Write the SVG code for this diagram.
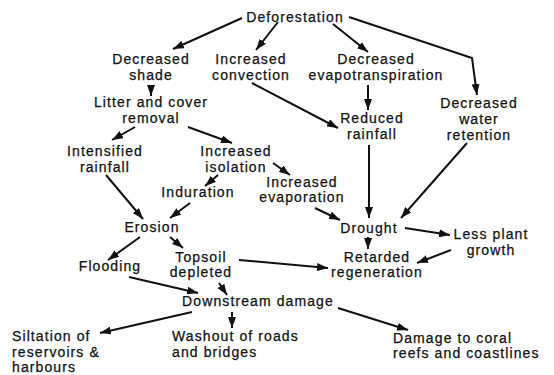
<svg xmlns="http://www.w3.org/2000/svg" width="554" height="375" viewBox="0 0 554 375">
<defs>
<marker id="ah" markerUnits="userSpaceOnUse" markerWidth="11" markerHeight="8" refX="11" refY="4" orient="auto">
<path d="M0,0 L11,4 L0,8 z" fill="#111"/>
</marker>
<style>
text{font-family:"Liberation Sans",Arial,Helvetica,sans-serif;font-size:14px;letter-spacing:1.1px;fill:#111;stroke:#111;stroke-width:0.25}
.c{text-anchor:middle}
.l{text-anchor:start}
.e{fill:none;stroke:#111;stroke-width:2;marker-end:url(#ah)}
</style>
</defs>
<rect width="554" height="375" fill="#fff"/>
<g id="connectors">
<line class="e" x1="242" y1="18" x2="173" y2="49"/>
<line class="e" x1="278" y1="22" x2="256" y2="50"/>
<line class="e" x1="333" y1="24" x2="368" y2="52"/>
<polyline class="e" points="349,17 472,58 477,95"/>
<line class="e" x1="151" y1="85" x2="151" y2="96"/>
<line class="e" x1="252" y1="83" x2="338" y2="128"/>
<line class="e" x1="368" y1="85" x2="368" y2="110"/>
<line class="e" x1="135" y1="127" x2="112" y2="140"/>
<line class="e" x1="188" y1="127" x2="232" y2="143"/>
<line class="e" x1="106" y1="175" x2="143" y2="219"/>
<line class="e" x1="218" y1="175" x2="205" y2="186"/>
<line class="e" x1="273" y1="163" x2="290" y2="175"/>
<line class="e" x1="190" y1="203" x2="170" y2="218"/>
<line class="e" x1="369" y1="145" x2="369" y2="218"/>
<line class="e" x1="467" y1="143" x2="401" y2="218"/>
<line class="e" x1="315" y1="208" x2="340" y2="220"/>
<line class="e" x1="368" y1="237" x2="368" y2="249"/>
<line class="e" x1="405" y1="228" x2="450" y2="235"/>
<line class="e" x1="451" y1="250" x2="417" y2="263"/>
<line class="e" x1="239" y1="260" x2="328" y2="268"/>
<line class="e" x1="140" y1="237" x2="108" y2="260"/>
<line class="e" x1="170" y1="237" x2="183" y2="248"/>
<line class="e" x1="129" y1="277" x2="198" y2="293"/>
<line class="e" x1="219" y1="283" x2="227" y2="295"/>
<line class="e" x1="192" y1="312" x2="100" y2="333"/>
<line class="e" x1="232" y1="312" x2="232" y2="328"/>
<line class="e" x1="338" y1="308" x2="408" y2="330"/>
</g>
<g id="deforestation"><text class="c" x="295" y="22">Deforestation</text></g>
<g id="decreased-shade"><text class="c" x="151" y="64">Decreased</text><text class="c" x="151" y="80">shade</text></g>
<g id="increased-convection"><text class="c" x="251" y="64">Increased</text><text class="c" x="251" y="80">convection</text></g>
<g id="decreased-evapotranspiration"><text class="c" x="376" y="64">Decreased</text><text class="c" x="376" y="80">evapotranspiration</text></g>
<g id="litter"><text class="c" x="151" y="107">Litter and cover</text><text class="c" x="151" y="123">removal</text></g>
<g id="reduced-rainfall"><text class="c" x="372" y="123">Reduced</text><text class="c" x="372" y="139">rainfall</text></g>
<g id="decreased-water-retention"><text class="c" x="479" y="108">Decreased</text><text class="c" x="479" y="124">water</text><text class="c" x="479" y="140">retention</text></g>
<g id="intensified-rainfall"><text class="c" x="105" y="156">Intensified</text><text class="c" x="105" y="172">rainfall</text></g>
<g id="increased-isolation"><text class="c" x="236" y="156">Increased</text><text class="c" x="236" y="172">isolation</text></g>
<g id="increased-evaporation"><text class="c" x="302" y="187">Increased</text><text class="c" x="302" y="202">evaporation</text></g>
<g id="induration"><text class="c" x="198" y="197">Induration</text></g>
<g id="erosion"><text class="c" x="152" y="232">Erosion</text></g>
<g id="drought"><text class="c" x="369" y="233">Drought</text></g>
<g id="less-plant-growth"><text class="c" x="491" y="239">Less plant</text><text class="c" x="491" y="255">growth</text></g>
<g id="retarded-regeneration"><text class="c" x="377" y="262">Retarded</text><text class="c" x="377" y="277">regeneration</text></g>
<g id="flooding"><text class="c" x="110" y="271">Flooding</text></g>
<g id="topsoil-depleted"><text class="c" x="201" y="262">Topsoil</text><text class="c" x="201" y="277">depleted</text></g>
<g id="downstream-damage"><text class="c" x="258" y="306">Downstream damage</text></g>
<g id="siltation"><text class="l" x="12" y="341">Siltation of</text><text class="l" x="12" y="357">reservoirs &amp;</text><text class="l" x="12" y="372">harbours</text></g>
<g id="washout"><text class="l" x="172" y="341">Washout of roads</text><text class="l" x="172" y="357">and bridges</text></g>
<g id="coral"><text class="l" x="393" y="343">Damage to coral</text><text class="l" x="393" y="358">reefs and coastlines</text></g>
</svg>
